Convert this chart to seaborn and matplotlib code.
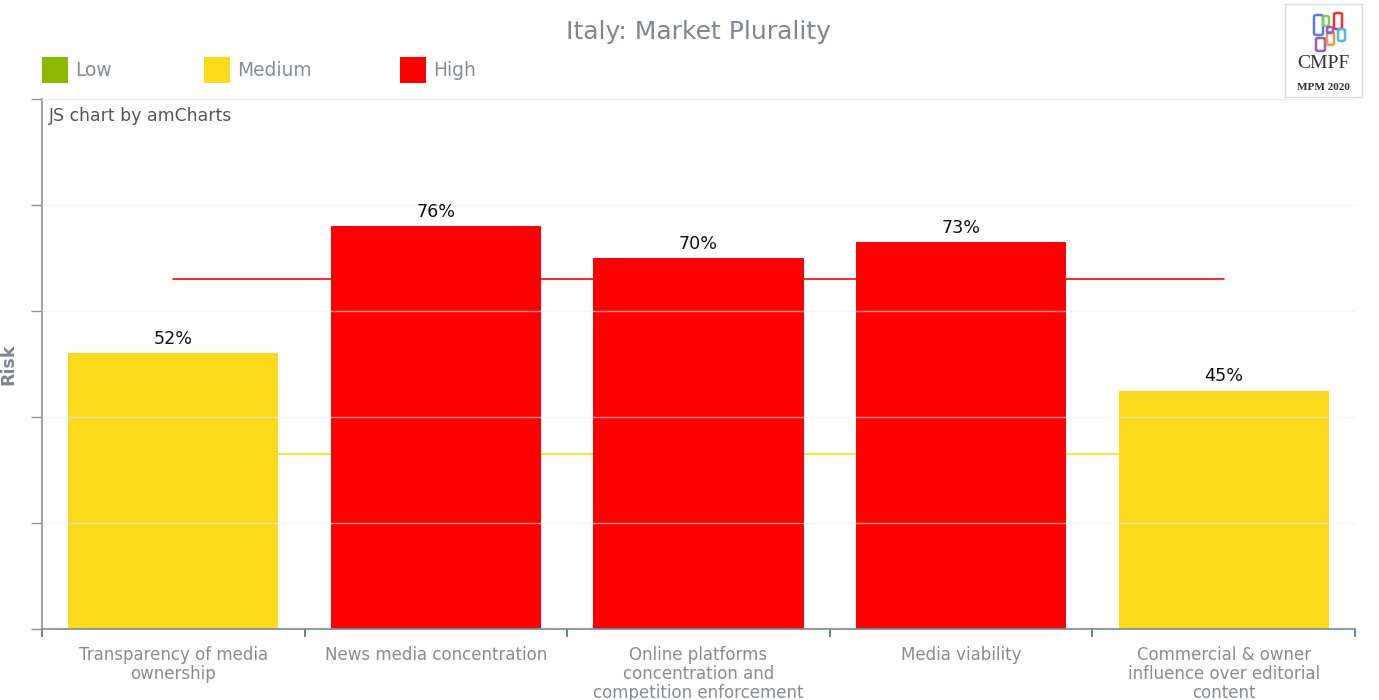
import matplotlib
matplotlib.use("Agg")
import matplotlib.pyplot as plt
import seaborn as sns
import pandas as pd
from matplotlib.patches import Rectangle, FancyBboxPatch

categories = [
    "Transparency of media\nownership",
    "News media concentration",
    "Online platforms\nconcentration and\ncompetition enforcement",
    "Media viability",
    "Commercial & owner\ninfluence over editorial\ncontent",
]
values = [52, 76, 70, 73, 45]
levels = ["Medium", "High", "High", "High", "Medium"]
legend_levels = ["Low", "Medium", "High"]
level_colors = {"Low": "#8DB800", "Medium": "#FBDA1B", "High": "#FF0000"}
thresholds = [33, 66]
threshold_colors = ["#FBDA1B", "#FF0000"]
y_ticks = [0, 20, 40, 60, 80, 100]

sns.set_style("white")
plt.rcParams["font.family"] = ["DejaVu Sans"]

W, H = 1379, 700
fig = plt.figure(figsize=(W / 100, H / 100), dpi=100)
ax = fig.add_axes([42 / W, 1 - 629 / H, (1355 - 42) / W, (629 - 99) / H])

df = pd.DataFrame({"cat": categories, "val": values, "level": levels})

# threshold lines (behind bars)
xs = list(range(len(categories)))
for t, c in zip(thresholds, threshold_colors):
    sns.lineplot(x=[xs[0], xs[-1]], y=[t, t], color=c, lw=1.2, ax=ax, zorder=1)

sns.barplot(data=df, x="cat", y="val", hue="level", palette=level_colors,
            dodge=False, width=0.8, saturation=1, legend=False, ax=ax,
            order=categories, zorder=2, edgecolor="none")

for i, v in enumerate(values):
    ax.text(i, v + 1.0, f"{v}%", ha="center", va="bottom", fontsize=12.6,
            color="#111111", zorder=5)

ax.set_xlim(-0.5, len(categories) - 0.5)
ax.set_ylim(0, 100)
ax.set_yticks(y_ticks)
ax.set_yticklabels([])
ax.tick_params(axis="y", direction="out", length=8, width=1, color="#8a939c", left=True)
ax.set_xticks(xs)
ax.set_xticklabels(categories, fontsize=12, color="#858c94", linespacing=1.08)
ax.tick_params(axis="x", length=0, pad=12)
ax.set_xticks([x - 0.5 for x in xs] + [xs[-1] + 0.5], minor=True)
ax.tick_params(axis="x", which="minor", direction="out", length=6, width=1.2,
               color="#4a6f8a", bottom=True)
ax.set_xlabel("")
ax.set_ylabel("Risk", fontsize=12.5, fontweight="bold", color="#7a8591")
ax.yaxis.set_label_coords(-(42 - 17) / (1355 - 42), 0.5)

ax.set_axisbelow(False)
ax.grid(axis="y", color="#eeeeee", lw=1, alpha=0.6, zorder=3)
ax.grid(axis="x", visible=False)

for s in ["top", "right"]:
    ax.spines[s].set_visible(False)
ax.spines["left"].set_color("#8a939c")
ax.spines["left"].set_linewidth(1.2)
ax.spines["bottom"].set_color("#6f8ca0")
ax.spines["bottom"].set_linewidth(1.2)
ax.spines["bottom"].set_zorder(6)

ax.axhline(100, color="#eeeeee", lw=1, zorder=3)

ax.text(7 / (1355 - 42), 0.985, "JS chart by amCharts", transform=ax.transAxes,
        fontsize=12.4, color="#555555", va="top", ha="left")

# title
fig.text(698 / W, 1 - 32 / H, "Italy: Market Plurality", ha="center", va="center",
         fontsize=18, color="#7f8690")

# legend
leg_x = [42, 204, 400]
for lx, lvl in zip(leg_x, legend_levels):
    fig.add_artist(Rectangle((lx / W, 1 - 83 / H), 26 / W, 26 / H,
                             transform=fig.transFigure, color=level_colors[lvl], lw=0))
    fig.text((lx + 33) / W, 1 - 70 / H, lvl, ha="left", va="center",
             fontsize=13.4, color="#858c94")

# logo
fig.add_artist(Rectangle((1285 / W, 1 - 97 / H), 77 / W, 93 / H, transform=fig.transFigure,
                         facecolor="white", edgecolor="#dddddd", lw=1))
logo_boxes = [
    (1314, 15, 9, 20, "#5b7fd6"), (1323, 16, 6, 10, "#7fcf5a"),
    (1334, 13, 8, 16, "#ee3333"), (1316, 38, 9, 13, "#9b59d0"),
    (1327, 32, 7, 13, "#f29a3a"), (1338, 29, 7, 12, "#4fb8e8"),
    (1327, 27, 6, 6, "#9b59d0"),
]
for bx, by, bw, bh, bc in logo_boxes:
    fig.add_artist(FancyBboxPatch((bx / W, 1 - (by + bh) / H), bw / W, bh / H,
                                  boxstyle="round,pad=0,rounding_size=0.002",
                                  transform=fig.transFigure, facecolor="none",
                                  edgecolor=bc, lw=1.8))
fig.text(1323 / W, 1 - 64 / H, "CMPF", ha="center", va="center", fontsize=14,
         family="Liberation Serif", color="#333333")
fig.text(1323 / W, 1 - 87 / H, "MPM 2020", ha="center", va="center", fontsize=8,
         family="Liberation Serif", fontweight="bold", color="#333333")

fig.savefig("out.png", dpi=100)
